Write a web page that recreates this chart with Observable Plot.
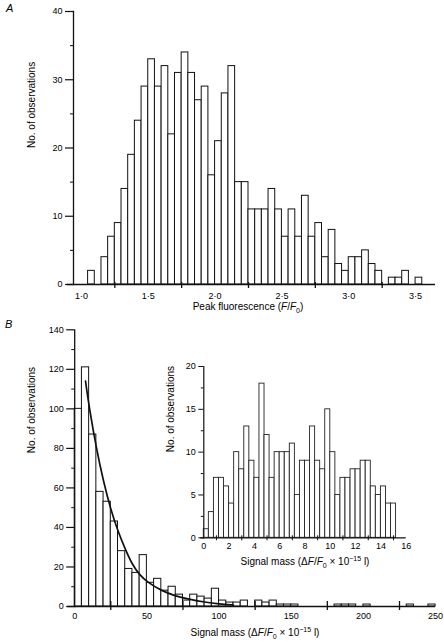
<!DOCTYPE html>
<html><head><meta charset="utf-8">
<script src="https://cdn.jsdelivr.net/npm/d3@7"></script>
<script src="https://cdn.jsdelivr.net/npm/@observablehq/plot@0.6"></script>
<style>
body{margin:0;background:#fff;}
#wrap{position:relative;width:444px;height:643px;font-family:"Liberation Sans",Arial,Helvetica,sans-serif;color:#000;overflow:hidden;}
.xl{position:absolute;font-size:10px;line-height:12px;white-space:nowrap;transform:translateX(-50%);}
.pl{position:absolute;font-size:11px;line-height:11px;font-style:italic;}
sub,sup{font-size:7px;line-height:0;}
</style></head><body><div id="wrap"></div>
<script>
// ---------- Panel A : peak fluorescence histogram ----------
const aBinLo = [1.05,1.10,1.15,1.20,1.25,1.30,1.35,1.40,1.45,1.50,1.55,1.60,1.65,1.70,1.75,1.80,1.85,1.90,1.95,2.00,
  2.05,2.10,2.15,2.20,2.25,2.30,2.35,2.40,2.45,2.50,2.55,2.60,2.65,2.70,2.75,2.80,2.85,2.90,2.95,3.00,
  3.05,3.10,3.15,3.20,3.25,3.30,3.35,3.40,3.45,3.50];
const aCounts = [2,0,4,7,9,14,19,24,29,33,29,32,22,31,34,31,27,29,16,21,
  28,32,15,15,11,11,11,14,11,7,11,7,13,7,9,4,8,3,2,4,
  4,5,3,2,0,1,1,2,0,1];
const aBinWidth = 0.05;
const aTickLabels = [1.0,1.5,2.0,2.5,3.0,3.5];
const aTickMarks = [1.25,1.75,2.25,2.75,3.25];
const aYMajor = [0,10,20,30,40];
const aYMinor = [5,15,25,35];

// ---------- Panel B : signal mass histogram ----------
const bBinLo = [0,5,10,15,20,25,30,35,40,45,50,55,60,65,70,75,80,85,90,95,
  100,105,110,115,120,125,130,135,140,145,150,155,160,165,170,175,180,185,190,195,
  200,205,210,215,220,225,230,235,240,245];
const bCounts = [100,121,87,58,53,43,28,19,17,26,12,14,8,10,6,3,6,5,4,9,
  3,2,2,3,0,3,2,3,1,1,1,0,0,0,0,0,1,1,1,0,
  1,0,0,0,0,0,1,0,0,1];
const bBinWidth = 5;
const bTickLabels = [0,50,100,150,200,250];
const bTickMarks = [25,75,125,175,225];
const bYMajor = [0,20,40,60,80,100,120,140];
const bYMinor = [10,30,50,70,90,110,130];
// fitted decay curve
const bCurveX = [7.5,10,15,20,25,30,35,40,45,50,60,70,80,90,100,110];
const bCurveY = [114,101,80,63,49,38,29,21,16,12.5,8,5.2,3.5,2.2,1.3,0.7];

// ---------- Inset : small signal masses ----------
const cBinLo = [0,0.4,0.8,1.2,1.6,2.0,2.4,2.8,3.2,3.6,4.0,4.4,4.8,5.2,5.6,6.0,6.4,6.8,7.2,7.6,
  8.0,8.4,8.8,9.2,9.6,10.0,10.4,10.8,11.2,11.6,12.0,12.4,12.8,13.2,13.6,14.0,14.4,14.8];
const cCounts = [1,3,7,7,6,4,10,8,13,9,7,18,12,7,10,10,10,11,5,9,
  9,13,9,8,15,10,5,7,7,8,8,9,9,6,5,6,4,4];
const cBinWidth = 0.4;
const cTickLabels = [0,2,4,6,8,10,12,14,16];
const cTickMarks = [1,3,5,7,9,11,13,15];
const cYMajor = [0,5,10,15,20];
const cYMinor = [2.5,7.5,12.5,17.5];

const yLabelText = "No. of observations";
const FONT = '"Liberation Sans",Arial,Helvetica,sans-serif';
const INK = "#111";

function rows(lo, counts, w){
  return lo.map((l,i)=>({x1:l, x2:l+w, y:counts[i]})).filter(d=>d.y>0);
}
function style(){ return {fontFamily:FONT, fontSize:"9px", color:"#000", background:"transparent", overflow:"visible"}; }

const wrap = document.getElementById("wrap");
function place(el, left, top){ el.style.position="absolute"; el.style.left=left+"px"; el.style.top=top+"px"; wrap.appendChild(el); }

// Panel A
const plotA = Plot.plot({
  width:444, height:320, marginLeft:73, marginRight:9, marginTop:11, marginBottom:36,
  style: style(),
  x:{domain:[0.9408,3.649], label:null}, y:{domain:[0,40], label:null},
  marks:[
    Plot.rect(rows(aBinLo,aCounts,aBinWidth), {x1:"x1", x2:"x2", y1:0, y2:"y", fill:"white", stroke:INK, strokeWidth:1}),
    Plot.frame({anchor:"left", stroke:INK, strokeWidth:1.3}),
    Plot.ruleY([0], {stroke:INK, strokeWidth:1.3, insetLeft:-6}),
    Plot.ruleX(aTickMarks, {x:d=>d, y1:0, y2:0, insetTop:-2, insetBottom:-4, stroke:INK, strokeWidth:1.3}),
    Plot.axisY(aYMajor, {anchor:"left", label:null, tickSize:8, tickPadding:3, stroke:INK, strokeWidth:1.2}),
    Plot.axisY(aYMinor, {anchor:"left", label:null, tickSize:3, tickFormat:()=>"", stroke:INK}),
    Plot.axisX(aTickLabels, {anchor:"bottom", label:null, tickSize:0, tickPadding:8, tickFormat:d=>d.toFixed(1).replace(".","\u00b7")}),
    Plot.text([yLabelText], {text:d=>d, frameAnchor:"left", rotate:-90, dx:-42, dy:0, fontSize:10})
  ]
});
place(plotA, 0, 0);

// Panel B
const plotB = Plot.plot({
  width:444, height:323, marginLeft:74.2, marginRight:8.9, marginTop:9.3, marginBottom:37,
  style: style(),
  x:{domain:[0,250], label:null}, y:{domain:[0,140], label:null},
  marks:[
    Plot.rect(rows(bBinLo,bCounts,bBinWidth), {x1:"x1", x2:"x2", y1:0, y2:"y", fill:"white", stroke:INK, strokeWidth:1}),
    Plot.frame({anchor:"left", stroke:INK, strokeWidth:1.3}),
    Plot.ruleY([0], {stroke:INK, strokeWidth:1.3, insetLeft:-7}),
    Plot.ruleX(bTickMarks, {x:d=>d, y1:0, y2:0, insetTop:-5, insetBottom:-4, stroke:INK, strokeWidth:1.3}),
    Plot.line(bCurveX.map((x,i)=>({x, y:bCurveY[i]})), {x:"x", y:"y", curve:"basis", stroke:INK, strokeWidth:1.7}),
    Plot.axisY(bYMajor, {anchor:"left", label:null, tickSize:8, tickPadding:3, stroke:INK, strokeWidth:1.2}),
    Plot.axisY(bYMinor, {anchor:"left", label:null, tickSize:3, tickFormat:()=>"", stroke:INK}),
    Plot.axisX(bTickLabels, {anchor:"bottom", label:null, tickSize:0, tickPadding:6}),
    Plot.text([yLabelText], {text:d=>d, frameAnchor:"left", rotate:-90, dx:-43, dy:-15, fontSize:10})
  ]
});
place(plotB, 0, 320);

// Inset
const plotC = Plot.plot({
  width:300, height:215, marginLeft:63.3, marginRight:34.3, marginTop:10, marginBottom:33.7,
  style: style(),
  x:{domain:[0,16], label:null}, y:{domain:[0,20], label:null},
  marks:[
    Plot.rect(rows(cBinLo,cCounts,cBinWidth), {x1:"x1", x2:"x2", y1:0, y2:"y", fill:"white", stroke:"#222", strokeWidth:0.9}),
    Plot.frame({anchor:"left", stroke:INK, strokeWidth:1.2}),
    Plot.ruleY([0], {stroke:INK, strokeWidth:1.2, insetLeft:-3}),
    Plot.ruleX(cTickMarks, {x:d=>d, y1:0, y2:0, insetTop:-2, insetBottom:-3, stroke:INK, strokeWidth:1}),
    Plot.axisY(cYMajor, {anchor:"left", label:null, tickSize:5, tickPadding:3, stroke:INK}),
    Plot.axisY(cYMinor, {anchor:"left", label:null, tickSize:2.5, tickFormat:()=>"", stroke:INK}),
    Plot.axisX(cTickLabels, {anchor:"bottom", label:null, tickSize:0, tickPadding:5}),
    Plot.text([yLabelText], {text:d=>d, frameAnchor:"left", rotate:-90, dx:-32.6, dy:0, fontSize:10})
  ]
});
place(plotC, 140, 356);

// rich-text axis titles and panel letters
function html(cls, inner, left, top){ const d=document.createElement("div"); d.className=cls; d.innerHTML=inner; d.style.left=left+"px"; d.style.top=top+"px"; wrap.appendChild(d); }
html("xl", 'Peak fluorescence (<i>F</i>/<i>F</i><sub>0</sub>)', 248, 301);
html("xl", 'Signal mass (\u0394<i>F</i>/<i>F</i><sub>0</sub> \u00d7 10<sup>\u221215</sup> l)', 255, 627);
html("xl", 'Signal mass (\u0394<i>F</i>/<i>F</i><sub>0</sub> \u00d7 10<sup>\u221215</sup> l)', 305, 556);
html("pl", 'A', 6, 3);
html("pl", 'B', 5, 319);
</script></body></html>
